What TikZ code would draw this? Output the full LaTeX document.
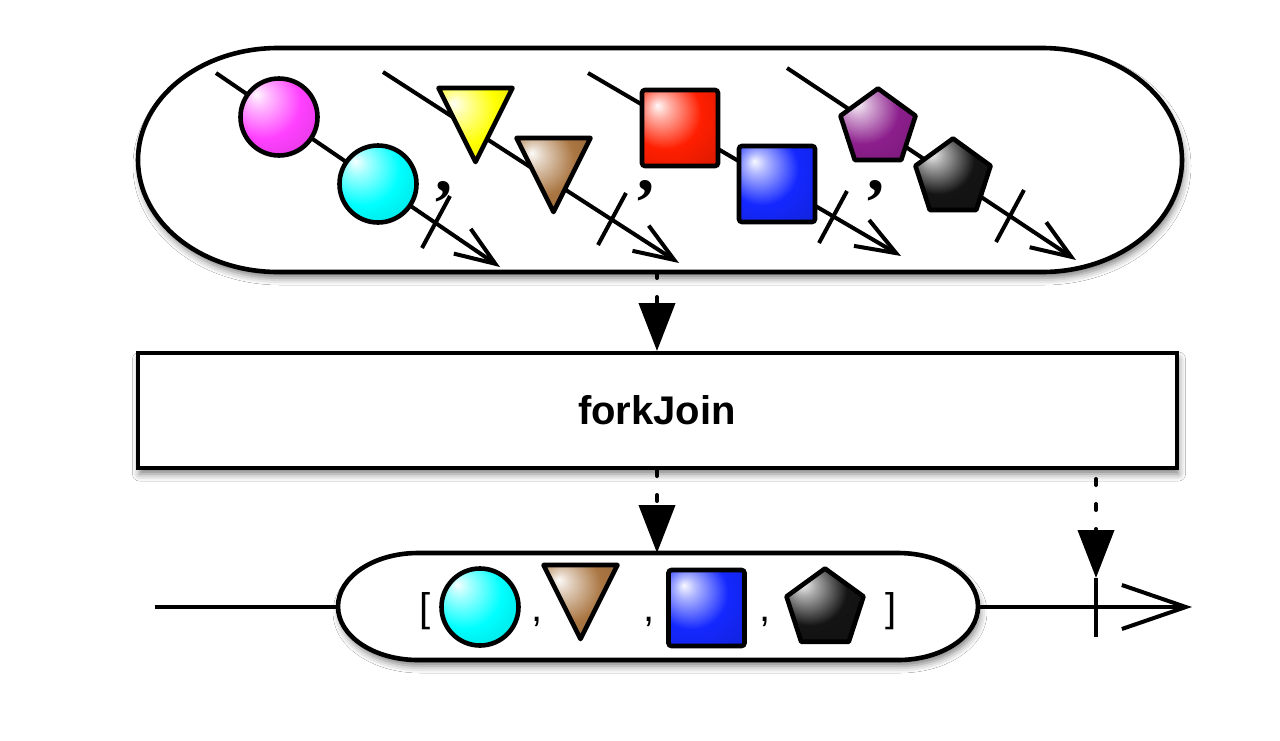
\documentclass[tikz,border=0pt]{standalone}
\usepackage{fontspec}
\setmainfont{Liberation Sans}
\newfontfamily\commafont{Liberation Serif}
\usetikzlibrary{arrows.meta,shapes.geometric,shadows.blur}

\colorlet{marblecol}{red}
\pgfdeclareradialshading[marblecol]{marble}{\pgfqpoint{-15bp}{15bp}}{%
 color(0bp)=(marblecol!3!white);
 color(7bp)=(marblecol!35!white);
 color(24bp)=(marblecol);
 color(48bp)=(marblecol!82!black);
 color(72bp)=(marblecol!45!black)}

\definecolor{cMag}{RGB}{255,64,255}
\definecolor{cCyan}{RGB}{0,255,255}
\definecolor{cYel}{RGB}{255,255,0}
\definecolor{cBrown}{RGB}{170,118,66}
\definecolor{cRed}{RGB}{255,30,0}
\definecolor{cBlue}{RGB}{20,40,255}
\definecolor{cPurp}{RGB}{140,30,140}
\definecolor{cBlack}{RGB}{20,20,20}

\tikzset{
 shadowed/.style={blur shadow={shadow xshift=1pt, shadow yshift=-3pt, shadow blur radius=3.5pt, shadow opacity=50}},
 pillline/.style={draw=black, line width=2.3pt, fill=white, shadowed},
 flow/.style={line width=2pt, -{Straight Barb[length=20pt, width=15pt]}},
 tickline/.style={line width=2pt},
 marbleshade/.style={shade, shading=marble, /utils/exec={\colorlet{marblecol}{#1}}},
 mcirc/.style={circle, draw=black, line width=2.3pt, minimum size=38.5pt, inner sep=0pt, marbleshade=#1},
 msq/.style={rectangle, draw=black, line width=2.3pt, minimum size=38pt, inner sep=0pt, rounded corners=1.5pt, marbleshade=#1},
 mtri/.style={isosceles triangle, isosceles triangle stretches, shape border rotate=-90, draw=black, line width=2.3pt, line join=round, minimum width=37pt, minimum height=37pt, inner sep=0pt, anchor=apex, marbleshade=#1},
 mpent/.style={regular polygon, regular polygon sides=5, draw=black, line width=2.3pt, line join=round, minimum size=39.5pt, inner sep=0pt, marbleshade=#1},
 dasharrow/.style={draw=black, line width=2pt, line cap=round, dash pattern=on 3pt off 9.5pt, -{Triangle[length=24pt, width=18pt, fill=black, color=black]}},
 topcomma/.style={font=\commafont\bfseries\fontsize{34}{34}\selectfont, inner sep=0pt},
 botlabel/.style={font=\fontsize{20}{20}\selectfont, inner sep=0pt},
 opbox/.style={draw=black, line width=2pt, fill=white, minimum width=519.5pt, minimum height=57.5pt, shadowed, font=\bfseries\fontsize{20}{24}\selectfont},
}

\begin{document}
\begin{tikzpicture}[x=0.5pt, y=-0.5pt]
\fill[white] (0,0) rectangle (1280,740);
\useasboundingbox (0,0) rectangle (1280,740);

% ---------- source pill ----------
\path[pillline] (278,48) -- (1042,48) arc[start angle=-90, end angle=90, x radius=140, y radius=112]
  -- (278,272) arc[start angle=90, end angle=270, x radius=140, y radius=112] -- cycle;
\coordinate (srcS) at (657,272);

% stream coordinates
\coordinate (l1s) at (216,73);  \coordinate (l1e) at (500,267); \coordinate (t1) at (436,222);
\coordinate (l2s) at (383,72);  \coordinate (l2e) at (679,263); \coordinate (t2) at (612,219);
\coordinate (l3s) at (588,73);  \coordinate (l3e) at (901,256); \coordinate (t3) at (833,217);
\coordinate (l4s) at (787,68);  \coordinate (l4e) at (1076,260); \coordinate (t4) at (1010,216);

\draw[flow] (l1s) -- (l1e);
\draw[flow] (l2s) -- (l2e);
\draw[flow] (l3s) -- (l3e);
\draw[flow] (l4s) -- (l4e);

\node[mcirc=cMag] (m1) at (279,117) {};
\node[mcirc=cCyan] (m2) at (378,184) {};
\node[mtri=cYel] (y1) at (475.5,168) {};
\node[mtri=cBrown] (y2) at (553.5,218) {};
\node[msq=cRed] (s1) at (680,128) {};
\node[msq=cBlue] (s2) at (777,184) {};
\node[mpent=cPurp] (p1) at (878,128) {};
\node[mpent=cBlack] (p2) at (953,178) {};

\draw[tickline] ([shift={(14,-26)}]t1) -- ([shift={(-14,26)}]t1);
\draw[tickline] ([shift={(14,-26)}]t2) -- ([shift={(-14,26)}]t2);
\draw[tickline] ([shift={(14,-26)}]t3) -- ([shift={(-14,26)}]t3);
\draw[tickline] ([shift={(14,-26)}]t4) -- ([shift={(-14,26)}]t4);

\node[topcomma] (c1) at (444,192) {,};
\node[topcomma] (c2) at (646,191) {,};
\node[topcomma] (c3) at (876,191) {,};

% ---------- operator box ----------
\node[opbox] (fj) at (657,410.5) {forkJoin};

% ---------- result timeline ----------
\coordinate (tlS) at (155,607);
\coordinate (tlE) at (1192,607);
\coordinate (tkTop) at (1096,578);
\coordinate (tkBot) at (1096,637);
\draw[line width=2pt, -{Straight Barb[length=32pt, width=22pt]}] (tlS) -- (tlE);
\draw[tickline] (tkTop) -- (tkBot);

\path[pillline] (418,553) -- (898,553) arc[start angle=-90, end angle=90, x radius=80, y radius=53.5]
  -- (418,660) arc[start angle=90, end angle=270, x radius=80, y radius=53.5] -- cycle;
\coordinate (resN) at (657,553);

\node[botlabel] (lb) at (425,611) {[};
\node[mcirc=cCyan] (b1) at (480,607) {};
\node[botlabel] (k1) at (537,622) {,};
\node[mtri=cBrown] (b2) at (580.5,645) {};
\node[botlabel] (k2) at (649,622) {,};
\node[msq=cBlue] (b3) at (706.5,608) {};
\node[botlabel] (k3) at (765,622) {,};
\node[mpent=cBlack, minimum size=40.5pt] (b4) at (825,609) {};
\node[botlabel] (rb) at (891,611) {]};

% ---------- dashed arrows ----------
\draw[dasharrow] (srcS) -- (fj.north);
\draw[dasharrow] (fj.south) -- (resN);
\draw[dasharrow, dash phase=8pt] (fj.south -| tkTop) -- (tkTop);
\end{tikzpicture}
\end{document}
